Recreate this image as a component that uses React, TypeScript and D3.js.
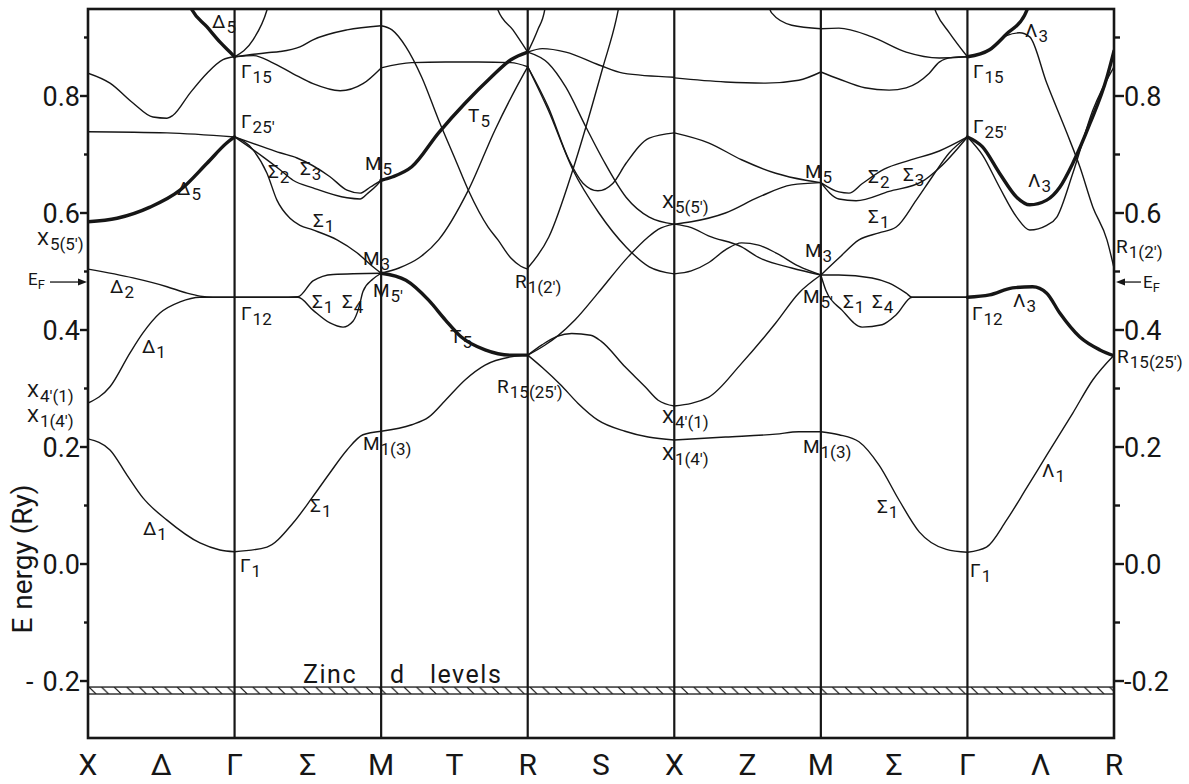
import React from "react";
import * as d3 from "d3";

type Pt = [number, number];

// ---- path (k = 0..7, one unit per segment) ----
const pathLabels = ["X", "Δ", "Γ", "Σ", "M", "T", "R", "S", "X", "Z", "M", "Σ", "Γ", "Λ", "R"];
const symmetryK = [1, 2, 3, 4, 5, 6];

// ---- energy axis ----
const yMajor = [-0.2, 0, 0.2, 0.4, 0.6, 0.8];
const yLabelsLeft = ["-0.2", "0.0", "0.2", "0.4", "0.6", "0.8"];
const yLabelsRight = ["-0.2", "0.0", "0.2", "0.4", "0.6", "0.8"];
const yMinor = [-0.1, 0.1, 0.3, 0.5, 0.7, 0.9];
const fermiLevel = 0.482;
const zincBand = [-0.2222, -0.2103];

// ---- bands: X -> Γ ----
const bandsXG: Pt[][] = [
  [[0, 0.214], [0.15, 0.195], [0.266, 0.152], [0.375, 0.113], [0.539, 0.075], [0.764, 0.036], [0.9, 0.024], [1, 0.021]],
  [[0, 0.275], [0.15, 0.303], [0.287, 0.361], [0.375, 0.395], [0.491, 0.429], [0.628, 0.448], [0.764, 0.456], [1, 0.456]],
  [[0, 0.504], [0.307, 0.489], [0.539, 0.474], [0.676, 0.463], [0.764, 0.458], [0.85, 0.456], [1, 0.456]],
  [[0, 0.739], [0.539, 0.737], [1, 0.73]],
  [[0, 0.839], [0.15, 0.822], [0.307, 0.788], [0.443, 0.764], [0.539, 0.762], [0.58, 0.767], [0.696, 0.805], [0.812, 0.839], [0.921, 0.862], [1, 0.867]],
];
const thickXG: Pt[][] = [
  [[0, 0.585], [0.198, 0.591], [0.423, 0.61], [0.628, 0.639], [0.812, 0.685], [0.948, 0.72], [1, 0.73]],
  [[0.66, 0.975], [0.71, 0.947], [0.812, 0.918], [0.901, 0.892], [0.989, 0.87], [1, 0.867]],
];

// ---- Γ -> M ----
const bandsGM: Pt[][] = [
  [[1, 0.021], [1.221, 0.029], [1.399, 0.07], [1.528, 0.113], [1.651, 0.156], [1.767, 0.195], [1.876, 0.221], [2, 0.227]],
  [[1, 0.456], [1.3, 0.456], [1.433, 0.457], [1.535, 0.484], [1.672, 0.495], [2, 0.497]],
  [[1, 0.456], [1.3, 0.456], [1.433, 0.456], [1.535, 0.434], [1.651, 0.412], [1.74, 0.405], [1.808, 0.415], [1.85, 0.44], [1.876, 0.466], [1.944, 0.487], [2, 0.497]],
  [[1, 0.73], [1.126, 0.708], [1.221, 0.668], [1.289, 0.622], [1.378, 0.591], [1.446, 0.579], [1.535, 0.571], [1.699, 0.554], [1.835, 0.532], [1.944, 0.508], [2, 0.497]],
  [[1, 0.73], [1.194, 0.713], [1.31, 0.703], [1.426, 0.694], [1.651, 0.662], [1.767, 0.639], [1.856, 0.634], [1.924, 0.644], [2, 0.656]],
  [[1, 0.73], [1.194, 0.696], [1.31, 0.674], [1.399, 0.656], [1.535, 0.643], [1.767, 0.626], [1.856, 0.624], [1.91, 0.634], [1.972, 0.648], [2, 0.656]],
  [[1, 0.867], [1.13, 0.869], [1.25, 0.858], [1.4, 0.838], [1.535, 0.821], [1.72, 0.809], [1.876, 0.821], [2, 0.848]],
  [[1, 0.867], [1.221, 0.874], [1.31, 0.876], [1.446, 0.884], [1.535, 0.896], [1.767, 0.913], [2, 0.92]],
  [[1, 0.867], [1.126, 0.896], [1.221, 0.947], [1.25, 0.975]],
];

// ---- M -> R ----
const bandsMR: Pt[][] = [
  [[2, 0.227], [2.209, 0.238], [2.324, 0.251], [2.439, 0.28], [2.574, 0.315], [2.709, 0.34], [2.885, 0.354], [3, 0.357]],
  [[2, 0.848], [2.209, 0.857], [2.439, 0.858], [2.662, 0.858], [2.885, 0.857], [3, 0.85]],
  [[2, 0.497], [2.122, 0.506], [2.257, 0.523], [2.392, 0.554], [2.595, 0.639], [2.777, 0.742], [2.932, 0.819], [3, 0.85]],
  [[2, 0.92], [2.074, 0.913], [2.169, 0.884], [2.277, 0.832], [2.392, 0.759], [2.507, 0.691], [2.595, 0.639], [2.73, 0.576], [2.797, 0.554], [2.885, 0.523], [2.953, 0.509], [3, 0.504]],
  [[2.76, 0.975], [2.797, 0.947], [2.899, 0.913], [3, 0.875]],
];
const thickMR: Pt[][] = [
  [[2, 0.656], [2.08, 0.662], [2.209, 0.679], [2.392, 0.737], [2.574, 0.788], [2.75, 0.832], [2.885, 0.862], [3, 0.875]],
  [[2, 0.497], [2.169, 0.485], [2.324, 0.451], [2.439, 0.417], [2.547, 0.388], [2.709, 0.366], [2.885, 0.357], [3, 0.357]],
];

// ---- R -> X ----
const bandsRX: Pt[][] = [
  [[3, 0.875], [3.1, 0.881], [3.26, 0.875], [3.486, 0.853], [3.65, 0.839], [4, 0.832]],
  [[3, 0.875], [3.14, 0.856], [3.26, 0.815], [3.397, 0.747], [3.514, 0.691], [3.671, 0.627], [3.829, 0.593], [4, 0.581]],
  [[3, 0.85], [3.14, 0.781], [3.281, 0.691], [3.377, 0.651], [3.479, 0.638], [3.582, 0.651], [3.671, 0.685], [3.829, 0.728], [4, 0.737]],
  [[3, 0.85], [3.14, 0.776], [3.308, 0.674], [3.486, 0.6], [3.671, 0.542], [3.829, 0.508], [4, 0.496]],
  [[3, 0.506], [3.144, 0.559], [3.308, 0.674], [3.397, 0.747], [3.514, 0.85], [3.603, 0.93], [3.64, 0.975]],
  [[3, 0.357], [3.116, 0.374], [3.205, 0.39], [3.322, 0.417], [3.479, 0.463], [3.685, 0.525], [3.822, 0.559], [3.89, 0.572], [4, 0.581]],
  [[3, 0.357], [3.1, 0.375], [3.2, 0.389], [3.3, 0.394], [3.43, 0.391], [3.5, 0.381], [3.664, 0.337], [3.801, 0.303], [3.89, 0.28], [4, 0.27]],
  [[3, 0.357], [3.103, 0.335], [3.226, 0.306], [3.342, 0.275], [3.479, 0.246], [3.664, 0.227], [3.822, 0.217], [4, 0.212]],
  [[3, 0.875], [3.068, 0.913], [3.116, 0.947], [3.13, 0.975]],
];

// ---- X -> M ----
const bandsXM: Pt[][] = [
  [[4, 0.831], [4.349, 0.824], [4.623, 0.822], [4.849, 0.827], [5, 0.841]],
  [[4, 0.737], [4.233, 0.72], [4.459, 0.691], [4.692, 0.668], [4.897, 0.656], [5, 0.652]],
  [[4, 0.581], [4.116, 0.585], [4.349, 0.6], [4.575, 0.627], [4.801, 0.648], [5, 0.652]],
  [[4, 0.581], [4.116, 0.575], [4.233, 0.561], [4.459, 0.542], [4.575, 0.524], [4.801, 0.506], [5, 0.494]],
  [[4, 0.496], [4.116, 0.501], [4.233, 0.515], [4.349, 0.537], [4.459, 0.549], [4.575, 0.545], [4.692, 0.532], [4.849, 0.509], [5, 0.494]],
  [[4, 0.27], [4.233, 0.285], [4.459, 0.343], [4.692, 0.412], [4.849, 0.463], [5, 0.494]],
  [[4, 0.212], [4.349, 0.217], [4.692, 0.222], [4.849, 0.226], [5, 0.226]],
  [[4.62, 0.975], [4.664, 0.942], [4.801, 0.921], [5, 0.915]],
];

// ---- M -> Γ ----
const bandsMG: Pt[][] = [
  [[5, 0.226], [5.123, 0.221], [5.26, 0.209], [5.397, 0.169], [5.534, 0.109], [5.671, 0.055], [5.856, 0.025], [6, 0.02]],
  [[5, 0.494], [5.123, 0.494], [5.349, 0.489], [5.466, 0.48], [5.582, 0.463], [5.623, 0.456], [6, 0.456]],
  [[5, 0.494], [5.034, 0.468], [5.144, 0.434], [5.281, 0.405], [5.418, 0.409], [5.514, 0.426], [5.623, 0.456], [6, 0.456]],
  [[5, 0.494], [5.123, 0.523], [5.26, 0.554], [5.397, 0.566], [5.514, 0.576], [5.651, 0.622], [5.76, 0.662], [5.877, 0.703], [6, 0.73]],
  [[5, 0.652], [5.123, 0.636], [5.192, 0.634], [5.281, 0.65], [5.432, 0.675], [5.603, 0.69], [5.808, 0.706], [6, 0.73]],
  [[5, 0.652], [5.123, 0.624], [5.24, 0.621], [5.466, 0.637], [5.692, 0.654], [5.808, 0.677], [6, 0.73]],
  [[5, 0.841], [5.123, 0.829], [5.3, 0.814], [5.466, 0.81], [5.582, 0.814], [5.74, 0.839], [5.808, 0.858], [5.9, 0.866], [6, 0.867]],
  [[5, 0.915], [5.123, 0.916], [5.349, 0.901], [5.582, 0.875], [5.808, 0.865], [6, 0.867]],
  [[5.74, 0.975], [5.788, 0.942], [5.877, 0.908], [6, 0.867]],
];

// ---- Γ -> R ----
const bandsGR: Pt[][] = [
  [[6, 0.02], [6.13, 0.029], [6.267, 0.075], [6.404, 0.13], [6.541, 0.186], [6.719, 0.258], [6.856, 0.315], [7, 0.357]],
  [[6, 0.73], [6.103, 0.699], [6.219, 0.644], [6.336, 0.593], [6.425, 0.571], [6.541, 0.579], [6.61, 0.593], [6.719, 0.668], [6.856, 0.776], [7, 0.85]],
  [[6, 0.867], [6.151, 0.879], [6.267, 0.903], [6.356, 0.908], [6.425, 0.901], [6.541, 0.822], [6.678, 0.737], [6.767, 0.679], [6.856, 0.61], [6.952, 0.554], [7, 0.506]],
];
const thickGR: Pt[][] = [
  [[6, 0.456], [6.151, 0.46], [6.308, 0.472], [6.445, 0.474], [6.541, 0.463], [6.63, 0.429], [6.767, 0.388], [6.904, 0.366], [7, 0.356]],
  [[6, 0.73], [6.103, 0.713], [6.219, 0.668], [6.336, 0.627], [6.425, 0.614], [6.541, 0.622], [6.63, 0.644], [6.719, 0.685], [6.836, 0.753], [6.952, 0.832], [7, 0.877]],
  [[6, 0.867], [6.151, 0.879], [6.267, 0.906], [6.39, 0.938], [6.45, 0.975]],
];

// ---- state labels: [symbol, subscript, k, E] ----
const stateLabels: [string, string, number, number][] = [
  ["Δ", "5", 0.846, 0.916], ["Γ", "15", 1.044, 0.831], ["Γ", "25′", 1.044, 0.745], ["Δ", "5", 0.607, 0.631],
  ["X", "5(5′)", -0.348, 0.545], ["Δ", "2", 0.15, 0.463], ["Γ", "12", 1.044, 0.417], ["Δ", "1", 0.368, 0.361],
  ["X", "4′(1)", -0.416, 0.285], ["X", "1(4′)", -0.416, 0.243], ["Δ", "1", 0.375, 0.05], ["Γ", "1", 1.037, -0.014],
  ["Σ", "1", 1.515, 0.089], ["Σ", "2", 1.228, 0.66], ["Σ", "3", 1.446, 0.665], ["M", "5", 1.89, 0.674],
  ["Σ", "1", 1.535, 0.576], ["M", "3", 1.876, 0.511], ["M", "5′", 1.944, 0.456], ["Σ", "1", 1.528, 0.438],
  ["Σ", "4", 1.733, 0.438], ["M", "1(3)", 1.876, 0.195], ["T", "5", 2.593, 0.756], ["T", "5", 2.47, 0.378],
  ["R", "1(2′)", 2.913, 0.472], ["R", "15(25′)", 2.791, 0.292], ["X", "5(5′)", 3.916, 0.609], ["M", "5", 4.892, 0.66],
  ["M", "3", 4.892, 0.525], ["M", "5′", 4.878, 0.446], ["X", "4′(1)", 3.916, 0.241], ["X", "1(4′)", 3.916, 0.178],
  ["M", "1(3)", 4.878, 0.19], ["Σ", "1", 5.151, 0.438], ["Σ", "4", 5.349, 0.438], ["Σ", "2", 5.322, 0.651],
  ["Σ", "3", 5.56, 0.655], ["Σ", "1", 5.322, 0.583], ["Σ", "1", 5.383, 0.087], ["Γ", "15", 6.038, 0.831],
  ["Γ", "25′", 6.038, 0.737], ["Γ", "12", 6.031, 0.417], ["Γ", "1", 6.018, -0.022], ["Λ", "3", 6.393, 0.901],
  ["Λ", "3", 6.413, 0.644], ["Λ", "3", 6.311, 0.439], ["Λ", "1", 6.509, 0.149], ["R", "1(2′)", 7.014, 0.532],
  ["R", "15(25′)", 7.021, 0.344],
];
const zincWords: [string, number][] = [["Zinc", 1.467], ["d", 2.06], ["levels", 2.333]];
const zincTextE = -0.203;

export default function App() {
  const W = 1189, H = 784;
  const x = d3.scaleLinear().domain([0, 7]).range([88, 1114]);
  const y = d3.scaleLinear().domain([-0.2974, 0.9487]).range([738, 9]);
  const line = d3.line<Pt>().x(d => x(d[0])).y(d => y(d[1])).curve(d3.curveMonotoneX);
  const thin = [...bandsXG, ...bandsGM, ...bandsMR, ...bandsRX, ...bandsXM, ...bandsMG, ...bandsGR];
  const thick = [...thickXG, ...thickMR, ...thickGR];
  const font = "Roboto, 'Liberation Sans', Arial, sans-serif";
  const [x0, x1] = x.range();
  const [yb, yt] = y.range();
  const zTop = y(zincBand[1]);
  const zBot = y(zincBand[0]);
  const efY = y(fermiLevel);
  const ink = "#161616";

  return (
    <svg width={W} height={H} style={{ position: "absolute", left: 0, top: 0, display: "block", background: "#fff" }} fontFamily={font}>
      <defs>
        <clipPath id="plotClip">
          <rect x={x0} y={yt} width={x1 - x0} height={yb - yt} />
        </clipPath>
        <pattern id="hatch" patternUnits="userSpaceOnUse" x={x0} y={zTop} width={12.6} height={zBot - zTop}>
          <line x1={1} y1={0} x2={8} y2={zBot - zTop} stroke={ink} strokeWidth={1.1} />
        </pattern>
      </defs>

      {/* zinc d band */}
      <rect x={x0} y={zTop} width={x1 - x0} height={zBot - zTop} fill="url(#hatch)" stroke={ink} strokeWidth={1.3} />
      {zincWords.map(([w, k], i) => (
        <text key={"z" + i} x={x(k)} y={y(zincTextE)} fontSize={25} letterSpacing={1.5} fill={ink}>{w}</text>
      ))}

      {/* bands */}
      <g clipPath="url(#plotClip)" fill="none" stroke={ink} strokeLinejoin="round" strokeLinecap="round">
        {thin.map((b, i) => <path key={"t" + i} d={line(b) || ""} strokeWidth={1.4} />)}
        {thick.map((b, i) => <path key={"T" + i} d={line(b) || ""} strokeWidth={3.4} />)}
      </g>

      {/* symmetry lines and frame */}
      {symmetryK.map(k => (
        <line key={"s" + k} x1={x(k)} x2={x(k)} y1={yt} y2={yb} stroke={ink} strokeWidth={2.2} />
      ))}
      <rect x={x0} y={yt} width={x1 - x0} height={yb - yt} fill="none" stroke={ink} strokeWidth={2.6} />

      {/* ticks */}
      {yMajor.map((v, i) => (
        <g key={"ym" + i}>
          <line x1={x0 - 8} x2={x0} y1={y(v)} y2={y(v)} stroke={ink} strokeWidth={2.4} />
          <line x1={x1} x2={x1 + 10} y1={y(v)} y2={y(v)} stroke={ink} strokeWidth={2.4} />
          <text x={x0 - 8} y={y(v)} dy="0.36em" textAnchor="end" fontSize={27} fill={ink}>
            {v < 0 ? <><tspan>-</tspan><tspan dx={9}>{yLabelsLeft[i].slice(1)}</tspan></> : yLabelsLeft[i]}
          </text>
          <text x={x1 + 10} y={y(v)} dy="0.36em" textAnchor="start" fontSize={27} fill={ink}>{yLabelsRight[i]}</text>
        </g>
      ))}
      {yMinor.map((v, i) => (
        <g key={"yn" + i}>
          <line x1={x0 - 4} x2={x0} y1={y(v)} y2={y(v)} stroke={ink} strokeWidth={2.4} />
          <line x1={x1} x2={x1 + 6} y1={y(v)} y2={y(v)} stroke={ink} strokeWidth={2.4} />
        </g>
      ))}

      {/* path labels */}
      {pathLabels.map((s, i) => (
        <text key={"p" + i} x={x(i / 2)} y={775} textAnchor="middle" fontSize={30} fill={ink}>{s}</text>
      ))}

      {/* axis title */}
      <text transform={`translate(32,559) rotate(-90)`} textAnchor="middle" fontSize={28} fill={ink}>
        <tspan>E</tspan><tspan dx={8}>nergy (Ry)</tspan>
      </text>

      {/* Fermi level markers */}
      <line x1={50} x2={80} y1={efY} y2={efY} stroke={ink} strokeWidth={1.3} />
      <path d={`M${x0 - 1},${efY} l-9,-3.5 l0,7 z`} fill={ink} />
      <text x={28} y={efY + 3} fontSize={17} fill={ink}>E<tspan fontSize={13} dy={4}>F</tspan></text>
      <line x1={x1 + 10} x2={1141} y1={efY} y2={efY} stroke={ink} strokeWidth={1.3} />
      <path d={`M${x1 + 2},${efY} l9,-3.5 l0,7 z`} fill={ink} />
      <text x={1143} y={efY + 6} fontSize={17} fill={ink}>E<tspan fontSize={13} dy={4}>F</tspan></text>

      {/* state labels */}
      {stateLabels.map(([m, s, k, e], i) => (
        <text key={"l" + i} x={x(k)} y={y(e)} fontSize={19} fill={ink}>
          {m}<tspan fontSize={17} dy={5} dx={1}>{s}</tspan>
        </text>
      ))}
    </svg>
  );
}
